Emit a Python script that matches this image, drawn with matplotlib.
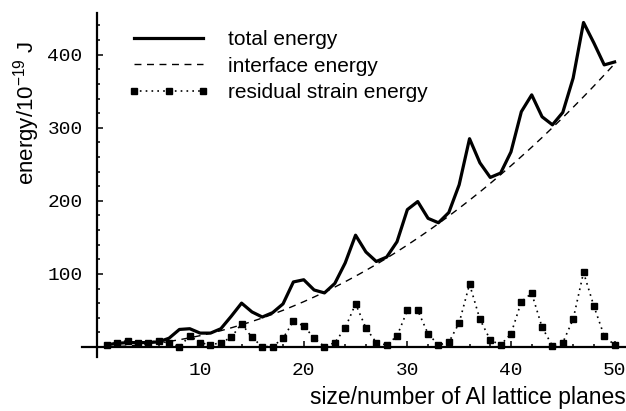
import matplotlib
matplotlib.use('Agg')
import matplotlib.pyplot as plt
from matplotlib.ticker import MultipleLocator

plt.rcParams['font.family'] = ['Liberation Sans', 'DejaVu Sans']
plt.rcParams['mathtext.fontset'] = 'custom'
plt.rcParams['mathtext.rm'] = 'Liberation Sans'
plt.rcParams['mathtext.default'] = 'regular'

# values (size = number of Al lattice planes)
size = list(range(1, 51))
total_energy = [3, 5, 6, 6, 6, 7, 12, 24, 25, 19,
                19, 25, 42, 60, 48, 41, 47, 59, 89, 92,
                78, 74, 87, 115, 153, 130, 117, 123, 144, 188,
                199, 176, 170, 184, 222, 285, 252, 232, 238, 267,
                322, 345, 315, 304, 321, 368, 444, 416, 386, 390]
interface_energy = [0.2, 0.6, 1.4, 2.5, 3.9, 5.6, 7.6, 9.9, 12.6, 15.5,
                    18.8, 22.3, 26.2, 30.4, 34.9, 39.7, 44.8, 50.2, 56, 62,
                    68.4, 75, 82, 89.3, 96.9, 104.8, 113, 121.5, 130.4, 139.5,
                    149, 158.7, 168.8, 179.2, 189.9, 200.9, 212.2, 223.8, 235.8, 248,
                    260.6, 273.4, 286.6, 300.1, 313.9, 328, 342.4, 357.1, 372.2, 387.5]
residual_strain = [2.7, 6, 8.7, 6, 6, 8.7, 5, 0.5, 15, 6,
                   2.7, 6, 13, 32, 13, 0.5, 0.5, 12, 35, 29,
                   12, 0.5, 6, 26, 59, 26, 6, 2.7, 15, 50,
                   50, 18, 2.7, 6.4, 33, 86, 38, 9.6, 2.7, 18,
                   62, 73.5, 27, 1.4, 6, 38, 102, 56, 15, 2.7]

fig = plt.figure(figsize=(6.26, 4.11), dpi=100)
ax = fig.add_axes([82 / 626, 54 / 411, 544 / 626, 344 / 411])

ax.plot(size, total_energy, color='black', lw=2.3, label='total energy')
ax.plot(size, interface_energy, color='black', lw=1, dashes=(5, 4),
        label='interface energy')
ax.plot(size, residual_strain, color='black', lw=1.2, ls=(0, (1, 2.5)),
        marker='s', ms=5, label='residual strain energy')

ax.set_xlim(-1.4, 51.1)
ax.set_ylim(-13.7, 457)

# axes through the origin, Mathematica style
for side in ['top', 'right']:
    ax.spines[side].set_visible(False)
ax.spines['left'].set_position(('data', 0))
ax.spines['bottom'].set_position(('data', 0))
ax.spines['left'].set_linewidth(1.6)
ax.spines['bottom'].set_linewidth(1.6)

ax.set_xticks([10, 20, 30, 40, 50])
ax.set_yticks([100, 200, 300, 400])
ax.xaxis.set_minor_locator(MultipleLocator(2))
ax.yaxis.set_minor_locator(MultipleLocator(20))
ax.tick_params(which='both', direction='in', width=1.1, labelsize=14,
               labelfontfamily='Liberation Mono')
ax.tick_params(which='major', length=4)
ax.tick_params(which='minor', length=2.5)
ax.tick_params(axis='x', pad=11)
ax.tick_params(axis='y', pad=10)

ax.legend(loc='upper left', bbox_to_anchor=(128 / 626, 1 - 30 / 411),
          bbox_transform=fig.transFigure, frameon=False, fontsize=15,
          handlelength=3.9, handletextpad=0.9, labelspacing=0.37,
          borderpad=0, borderaxespad=0, numpoints=3)

fig.text(0.999, 0.032, 'size/number of Al lattice planes', ha='right',
         va='center', fontsize=16.5)
fig.text(0.042, 0.725, 'energy/10$^{-19}$ J', rotation=90, ha='center',
         va='center', fontsize=16)

fig.savefig('out.png', dpi=100)
